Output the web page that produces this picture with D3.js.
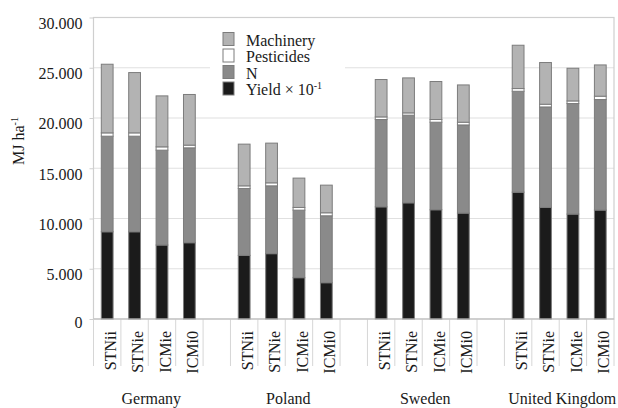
<!DOCTYPE html>
<html>
<head>
<meta charset="utf-8">
<script src="https://cdn.jsdelivr.net/npm/d3@7"></script>
<style>
  body { margin: 0; background: #fff; }
  text { font-family: 'Liberation Serif', 'Times New Roman', serif; fill: #1a1a1a; }
</style>
</head>
<body>
<div id="chart"></div>
<script>
// energy input per hectare, stacked by source
const countries = ['Germany', 'Poland', 'Sweden', 'United Kingdom'];
const systems = ['STNii', 'STNie', 'ICMie', 'ICMi0'];

// one value per country x system, in the order above (MJ/ha)
const yieldVals = [8680, 8680, 7360, 7590, 6330, 6500, 4110, 3610,
  11160, 11560, 10870, 10540, 12620, 11100, 10440, 10840];
const nVals = [9510, 9510, 9440, 9440, 6660, 6750, 6720, 6660,
  8690, 8720, 8710, 8770, 10040, 10000, 11000, 11000];
const pesticideVals = [330, 330, 330, 270, 260, 300, 270, 300,
  260, 230, 270, 270, 270, 270, 260, 330];
const machineryVals = [6830, 6000, 5070, 5040, 4150, 3950, 2920, 2750,
  3720, 3480, 3780, 3710, 4310, 4150, 3250, 3110];

const yTicks = [0, 5000, 10000, 15000, 20000, 25000, 30000];

const keys = ['yield', 'n', 'pesticides', 'machinery'];
const legendItems = [
  { key: 'machinery', label: 'Machinery' },
  { key: 'pesticides', label: 'Pesticides' },
  { key: 'n', label: 'N' },
  { key: 'yield', label: 'Yield × 10', sup: '-1' },
];

const fills = {
  yield: '#1b1b1b',
  n: '#8a8a8a',
  pesticides: '#ffffff',
  machinery: '#b3b3b3',
};

const rows = [];
countries.forEach((c, ci) => {
  systems.forEach((s, si) => {
    const i = ci * systems.length + si;
    rows.push({
      id: `${c}|${s}`,
      country: c,
      system: s,
      yield: yieldVals[i],
      n: nVals[i],
      pesticides: pesticideVals[i],
      machinery: machineryVals[i],
    });
  });
});

// slots incl. empty gaps between countries
const slots = [];
countries.forEach((c, ci) => {
  systems.forEach((s) => slots.push(`${c}|${s}`));
  if (ci < countries.length - 1) slots.push(`gap${ci}`);
});

const size = { width: 618, height: 408 };
const margin = { left: 93.5, top: 17.5, right: 4, bottom: 89 };

const svg = d3.select('#chart')
  .append('svg')
  .attr('width', size.width)
  .attr('height', size.height);

const pad = 0.57;
const x = d3.scaleBand()
  .domain(slots)
  .range([margin.left, size.width - margin.right])
  .paddingInner(pad)
  .paddingOuter(pad / 2);

const y = d3.scaleLinear()
  .domain([0, 30000])
  .range([size.height - margin.bottom, margin.top]);

const x0 = margin.left;
const x1 = size.width - margin.right;

// grid
svg.append('g')
  .selectAll('line')
  .data(yTicks.slice(1, -1))
  .join('line')
  .attr('x1', x0)
  .attr('x2', x1)
  .attr('y1', (d) => y(d))
  .attr('y2', (d) => y(d))
  .attr('stroke', '#e0e0e0')
  .attr('stroke-width', 1.2);

// y axis
const yAxis = svg.append('g')
  .attr('transform', `translate(${x0},0)`)
  .call(d3.axisLeft(y)
    .tickValues(yTicks)
    .tickSize(4)
    .tickFormat((d) => (d === 0 ? '0' : d3.format(',')(d).replace(',', '.'))));
yAxis.select('.domain').remove();
yAxis.selectAll('line').attr('stroke', '#cfcfcf');
yAxis.selectAll('text')
  .attr('x', -11)
  .attr('y', 0)
  .attr('dy', (d) => (d === 0 ? '0.5em' : '0.68em'))
  .style('font-size', '16px')
  .style('font-family', "'Liberation Serif', serif")
  .attr('fill', '#1a1a1a');

// frame
svg.append('rect')
  .attr('x', x0)
  .attr('y', y(30000))
  .attr('width', x1 - x0)
  .attr('height', y(0) - y(30000))
  .attr('fill', 'none')
  .attr('stroke', '#cfcfcf')
  .attr('stroke-width', 1.2);

// x separators at slot boundaries
const bounds = slots.map((s) => x(s) + x.bandwidth() / 2 - x.step() / 2);
bounds.push(x1);
svg.append('g')
  .selectAll('line')
  .data(bounds)
  .join('line')
  .attr('x1', (d) => d)
  .attr('x2', (d) => d)
  .attr('y1', y(0))
  .attr('y2', y(0) + 47)
  .attr('stroke', '#d6d6d6')
  .attr('stroke-width', 1);

// legend background (hides gridline)
svg.append('rect')
  .attr('x', 210)
  .attr('y', 28)
  .attr('width', 135)
  .attr('height', 74)
  .attr('fill', '#fff');

// bars
const stacked = d3.stack().keys(keys)(rows);
svg.append('g')
  .selectAll('g')
  .data(stacked)
  .join('g')
  .attr('fill', (d) => fills[d.key])
  .selectAll('rect')
  .data((d) => d)
  .join('rect')
  .attr('x', (d) => x(d.data.id))
  .attr('width', x.bandwidth())
  .attr('y', (d) => y(d[1]))
  .attr('height', (d) => y(d[0]) - y(d[1]))
  .attr('stroke', '#7c7c7c')
  .attr('stroke-width', 1);

// baseline
svg.append('line')
  .attr('x1', x0)
  .attr('x2', x1)
  .attr('y1', y(0))
  .attr('y2', y(0))
  .attr('stroke', '#bdbdbd');

// system labels
svg.append('g')
  .selectAll('text')
  .data(rows)
  .join('text')
  .attr('transform', (d) => `translate(${x(d.id) + x.bandwidth() / 2 + 3},${y(0) + 12}) rotate(-90)`)
  .attr('dy', '0.35em')
  .attr('text-anchor', 'end')
  .style('font-size', '16px')
  .text((d) => d.system);

// country labels
svg.append('g')
  .selectAll('text')
  .data(countries)
  .join('text')
  .attr('x', (c) => {
    const a = x(`${c}|${systems[0]}`);
    const b = x(`${c}|${systems[systems.length - 1]}`) + x.bandwidth();
    return (a + b) / 2 + 3;
  })
  .attr('y', 404)
  .attr('text-anchor', 'middle')
  .style('font-size', '16px')
  .text((c) => c);

// y title
const yTitle = svg.append('text')
  .attr('transform', 'translate(24,141) rotate(-90)')
  .attr('text-anchor', 'middle')
  .style('font-size', '16px');
yTitle.append('tspan').text('MJ ha');
yTitle.append('tspan').attr('dy', -6).style('font-size', '10px').text('-1');

// legend
const legend = svg.append('g').attr('transform', 'translate(223,32.5)');
const li = legend.selectAll('g')
  .data(legendItems)
  .join('g')
  .attr('transform', (d, i) => `translate(0,${i * 16.5})`);
li.append('rect')
  .attr('width', 11)
  .attr('height', 13)
  .attr('fill', (d) => fills[d.key])
  .attr('stroke', '#7c7c7c');
const lt = li.append('text')
  .attr('x', 23)
  .attr('y', 13)
  .style('font-size', '16px');
lt.append('tspan').text((d) => d.label);
lt.filter((d) => d.sup)
  .append('tspan')
  .attr('dy', -6)
  .style('font-size', '10px')
  .text((d) => d.sup);
</script>
</body>
</html>
